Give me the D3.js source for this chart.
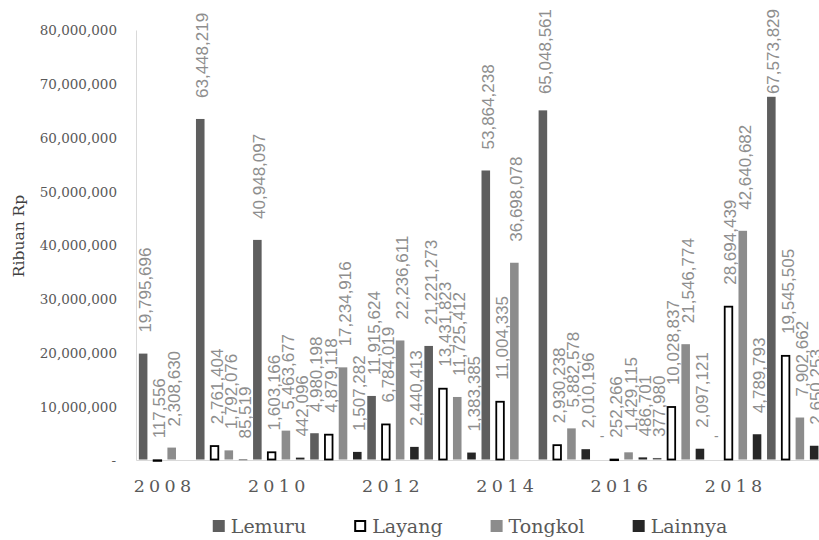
<!DOCTYPE html>
<html>
<head>
<meta charset="utf-8">
<script src="https://cdn.jsdelivr.net/npm/d3@7"></script>
<style>
  body { margin: 0; background: #fff; }
  svg { display: block; }
</style>
</head>
<body>
<svg id="chart" width="819" height="540"></svg>
<script>
// Nilai produksi per jenis ikan (ribuan rupiah), 2008–2019
const years = [2008, 2009, 2010, 2011, 2012, 2013, 2014, 2015, 2016, 2017, 2018, 2019];
const seriesNames = ["Lemuru", "Layang", "Tongkol", "Lainnya"];
const lemuru  = [19795696, 63448219, 40948097, 4980198, 11915624, 21221273, 53864238, 65048561, 0, 377980, 0, 67573829];
const layang  = [117556, 2761404, 1603166, 4879118, 6784019, 13431823, 11004335, 2930238, 252266, 10028837, 28694439, 19545505];
const tongkol = [2308630, 1792076, 5463677, 17234916, 22236611, 11725412, 36698078, 5882578, 1429115, 21546774, 42640682, 7902662];
const lainnya = [null, 85519, 442096, 1507282, 2440413, 1383385, null, 2010196, 486701, 2097121, 4789793, 2650253];
const yTicks = [0, 10000000, 20000000, 30000000, 40000000, 50000000, 60000000, 70000000, 80000000];
const yearTicks = [2008, 2010, 2012, 2014, 2016, 2018];

const seriesValues = { Lemuru: lemuru, Layang: layang, Tongkol: tongkol, Lainnya: lainnya };
const fills = { Lemuru: "#5e5e5e", Layang: "#ffffff", Tongkol: "#8c8c8c", Lainnya: "#262626" };
const strokes = { Lemuru: "none", Layang: "#000000", Tongkol: "none", Lainnya: "none" };

const serif = "'DejaVu Serif', 'Liberation Serif', serif";
const sans = "'Liberation Sans', Arial, sans-serif";

const svg = d3.select("#chart");
const plot = { left: 136, right: 821.3, top: 30, bottom: 460 };

const x = d3.scaleBand().domain(years).range([plot.left, plot.right]).padding(0);
const xs = d3.scaleBand().domain(seriesNames).range([0, x.bandwidth()])
  .paddingInner(0.4).paddingOuter(0.2);
const y = d3.scaleLinear().domain([0, 80000000]).range([plot.bottom, plot.top]);

const fmt = d3.format(",");

// Y axis: labels only, light axis line
const yAxis = d3.axisLeft(y).tickValues(yTicks).tickSize(0).tickPadding(19)
  .tickFormat(d => d === 0 ? "-" : fmt(d));
const gy = svg.append("g").attr("transform", `translate(${plot.left},0)`).call(yAxis);
gy.select(".domain").attr("stroke", "#d9d9d9").attr("stroke-width", 1);
gy.selectAll("text").attr("font-family", serif).attr("font-size", 13.5)
  .attr("fill", "#595959").attr("dy", "0.36em");
gy.selectAll(".tick").filter(d => d === 0).select("text").attr("dx", -1);

// X axis: baseline and every other year
const xAxis = d3.axisBottom(x).tickValues(yearTicks).tickSize(0).tickPadding(20);
const gx = svg.append("g").attr("transform", `translate(0,${plot.bottom})`).call(xAxis);
gx.select(".domain").attr("stroke", "#d9d9d9").attr("stroke-width", 1);
gx.selectAll("text").attr("font-family", serif).attr("font-size", 17.5)
  .attr("letter-spacing", "4.3px").attr("fill", "#595959").attr("dy", "0.71em");

// Bars
const rows = [];
years.forEach((yr, i) => {
  seriesNames.forEach(s => {
    rows.push({ year: yr, series: s, value: seriesValues[s][i] });
  });
});

const bars = svg.append("g");
rows.filter(d => d.value !== null && d.value > 0).forEach(d => {
  const isOutline = d.series === "Layang";
  const x0 = x(d.year) + xs(d.series);
  const w = xs.bandwidth();
  const top = y(d.value);
  const h = plot.bottom - 0.5 - top;
  bars.append("rect")
    .attr("x", isOutline ? x0 + 0.5 : x0)
    .attr("y", isOutline ? top + 0.9 : top)
    .attr("width", isOutline ? w - 1 : w)
    .attr("height", Math.max(isOutline ? h - 0.9 : h, 0.6))
    .attr("fill", fills[d.series])
    .attr("stroke", strokes[d.series])
    .attr("stroke-width", isOutline ? 1.8 : 0);
});

// Value labels above each bar, rotated; kept inside the chart's top edge
const labels = svg.append("g");
const labelGap = 21, labelTopLimit = 9;
rows.filter(d => d.value !== null).forEach(d => {
  const cx = x(d.year) + xs(d.series) + xs.bandwidth() / 2;
  const top = y(d.value);
  if (d.value === 0) {
    labels.append("text")
      .attr("x", cx + 2).attr("y", top - 19)
      .attr("text-anchor", "middle")
      .attr("font-family", sans).attr("font-size", 14)
      .attr("fill", "#8e8e8e")
      .text("-");
  } else {
    const t = labels.append("text")
      .attr("x", 0).attr("y", 8)
      .attr("font-family", sans).attr("font-size", 17)
      .attr("fill", "#8e8e8e")
      .text(fmt(d.value));
    const len = t.node().getComputedTextLength();
    const start = Math.max(top - labelGap, labelTopLimit + len);
    t.attr("transform", `translate(${cx},${start}) rotate(-90)`);
  }
});

// Y axis title
svg.append("text")
  .attr("transform", "translate(24,236) rotate(-90)")
  .attr("text-anchor", "middle")
  .attr("font-family", serif).attr("font-size", 15.5)
  .attr("fill", "#404040")
  .text("Ribuan Rp");

// Legend
const legend = svg.append("g");
const markerSize = 12, markerGap = 6, itemGap = 48;
let cursor = 0;
seriesNames.forEach(s => {
  const g = legend.append("g");
  g.append("rect")
    .attr("x", s === "Layang" ? 1 : 0).attr("y", s === "Layang" ? 521 : 520)
    .attr("width", s === "Layang" ? markerSize - 2 : markerSize)
    .attr("height", s === "Layang" ? markerSize - 2 : markerSize)
    .attr("fill", fills[s]).attr("stroke", strokes[s])
    .attr("stroke-width", s === "Layang" ? 2 : 0);
  const t = g.append("text")
    .attr("x", markerSize + markerGap).attr("y", 533)
    .attr("font-family", serif).attr("font-size", 19)
    .attr("fill", "#595959")
    .text(s);
  const w = markerSize + markerGap + t.node().getComputedTextLength();
  g.attr("transform", `translate(${cursor},0)`);
  cursor += w + itemGap;
});
const totalW = cursor - itemGap;
legend.attr("transform", `translate(${470 - totalW / 2},0)`);
</script>
</body>
</html>
